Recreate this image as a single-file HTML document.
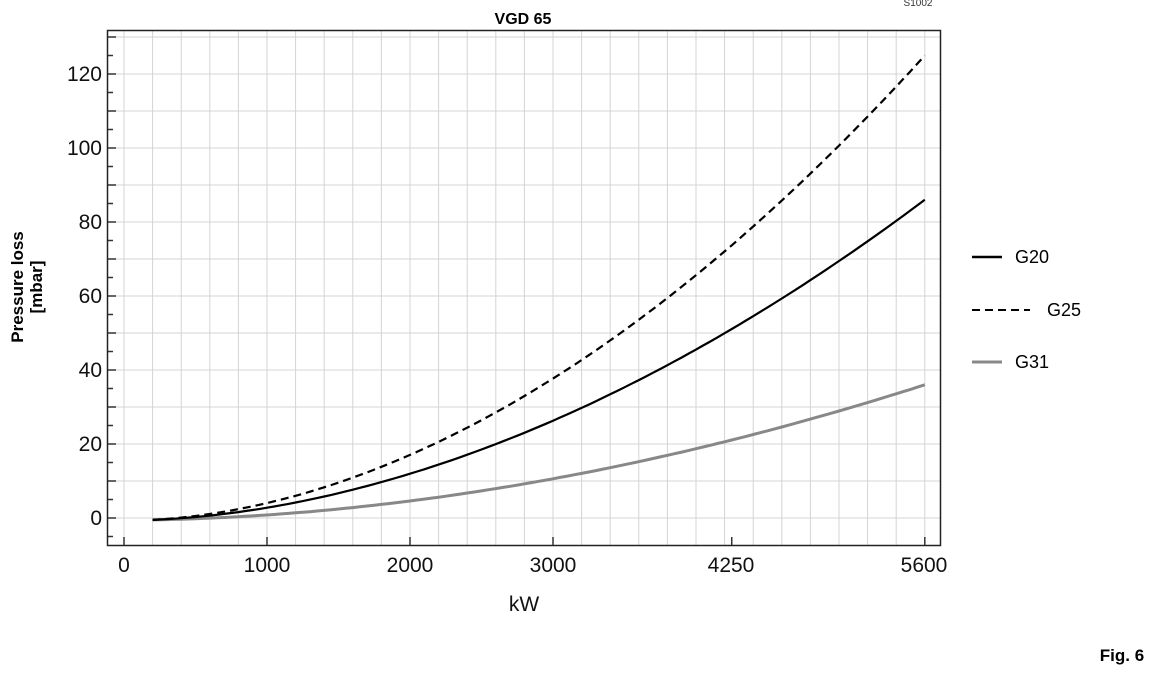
<!DOCTYPE html>
<html><head><meta charset="utf-8"><style>
html,body{margin:0;padding:0;background:#fff;}
svg{display:block;font-family:"Liberation Sans",sans-serif;}
</style></head><body>
<svg width="1159" height="673" viewBox="0 0 1159 673" xmlns="http://www.w3.org/2000/svg">
<g id="grid" stroke="#d4d4d4" stroke-width="1"></g>
<rect x="107.5" y="30.5" width="833" height="515" fill="none" stroke="#222" stroke-width="1.5"/>
<g id="ticks" stroke="#333" stroke-width="1.5"></g>
<g font-size="21" fill="#111" text-anchor="end">
<text x="102" y="81">120</text><text x="102" y="155">100</text><text x="102" y="229">80</text>
<text x="102" y="303">60</text><text x="102" y="377">40</text><text x="102" y="451">20</text><text x="102" y="525">0</text>
</g>
<g font-size="21" fill="#111" text-anchor="middle">
<text x="124" y="572">0</text><text x="267" y="572">1000</text><text x="410" y="572">2000</text>
<text x="553" y="572">3000</text><text x="731" y="572">4250</text><text x="924" y="572">5600</text>
<text x="524" y="611">kW</text>
</g>
<text x="523" y="24" font-size="16" font-weight="bold" text-anchor="middle">VGD 65</text>
<text x="918" y="6" font-size="10" fill="#333" text-anchor="middle">S1002</text>
<text x="1122" y="661" font-size="17" font-weight="bold" text-anchor="middle">Fig. 6</text>
<g transform="translate(23,287) rotate(-90)" font-size="17" font-weight="bold" text-anchor="middle">
<text x="0" y="0">Pressure loss</text><text x="0" y="19">[mbar]</text>
</g>
<g id="curves" fill="none"></g>
<line x1="972" y1="257" x2="1002" y2="257" stroke="#000" stroke-width="2.5"/>
<text x="1015" y="263" font-size="18">G20</text>
<line x1="972" y1="310" x2="1030" y2="310" stroke="#000" stroke-width="2" stroke-dasharray="8,5"/>
<text x="1047" y="316" font-size="18">G25</text>
<line x1="972" y1="362" x2="1002" y2="362" stroke="#888" stroke-width="3"/>
<text x="1015" y="368" font-size="18">G31</text>
</svg>
<script>
var ns="http://www.w3.org/2000/svg",g=document.getElementById("grid"),t=document.getElementById("ticks"),c=document.getElementById("curves");
function L(p,x1,y1,x2,y2){var l=document.createElementNS(ns,"line");l.setAttribute("x1",x1);l.setAttribute("y1",y1);l.setAttribute("x2",x2);l.setAttribute("y2",y2);p.appendChild(l);}
for(var k=0;k<=28;k++){var x=124+28.6*k;if(x<940)L(g,x,31,x,545);}
for(var v=0;v<=130;v+=10){var y=518-3.7*v;L(g,108,y,940,y);}
for(var v=-5;v<=130;v+=5){var y=518-3.7*v;L(t,108,y,v%10==0?116:113,y);}
[0,1000,2000,3000,4250,5600].forEach(function(q){var x=124+q*0.143;L(t,x,545,x,537);});
function curve(end,p,stroke,w,dash){var A=(end+0.5)/(Math.pow(5600,p)-Math.pow(200,p)),d="";
for(var x=200;x<=5600;x+=50){var v=A*(Math.pow(x,p)-Math.pow(200,p))-0.5;d+=(x==200?"M":"L")+(124+x*0.143).toFixed(1)+" "+(518-3.7*v).toFixed(1);}
var e=document.createElementNS(ns,"path");e.setAttribute("d",d);e.setAttribute("stroke",stroke);e.setAttribute("stroke-width",w);if(dash)e.setAttribute("stroke-dasharray",dash);c.appendChild(e);}
curve(36,1.9,"#888",3);
curve(86,1.87,"#000",2.2);
curve(125,1.9,"#000",2.2,"8,5");
</script>
</body></html>
